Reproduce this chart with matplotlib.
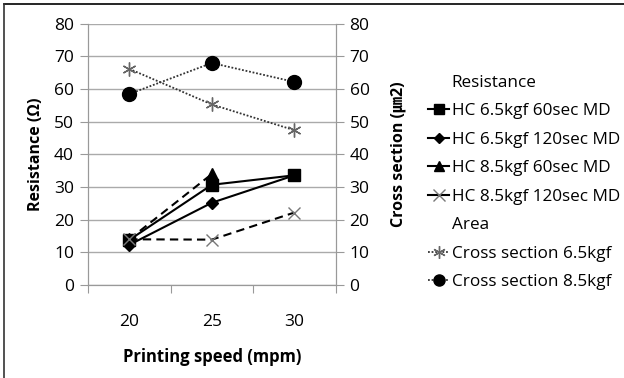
import matplotlib
matplotlib.use("Agg")
import matplotlib.pyplot as plt
from matplotlib.lines import Line2D

plt.rcParams['font.family'] = ['Open Sans', 'Noto Sans CJK KR', 'DejaVu Sans']

speeds = ['20', '25', '30']
hc65_60 = [13.8, 30.7, 33.6]
hc65_120 = [12.3, 25.2, 33.6]
hc85_60 = [14.0, 34.0, float('nan')]  # point at 30 hidden under the square in the original
hc85_120 = [14.0, 13.9, 22.2]
cs65 = [66.2, 55.3, 47.4]
cs85 = [58.5, 68.0, 62.2]

x = [1, 2, 3]

fig = plt.figure(figsize=(6.24, 3.78), dpi=100)
ax = fig.add_axes([0.141, 0.246, 0.397, 0.691])
ax2 = ax.twinx()

# resistance lines
ax.plot(x, hc65_60, color='black', lw=1.5, marker='s', ms=8, zorder=5)
ax.plot(x, hc65_120, color='black', lw=1.5, marker='D', ms=6, zorder=5)
ax.plot(x, hc85_60, color='black', lw=1.5, ls=(0, (4, 2.5)), marker='^', ms=8, zorder=5)
ax.plot(x, hc85_120, color='black', lw=1.5, ls=(0, (4, 2.5)), marker='x', ms=9,
        mec='#777777', mew=1, zorder=5)

# cross section lines
ax2.plot(x, cs65, color='#333333', lw=1.3, ls=(0, (1, 1)), marker=(6, 2, 0), ms=10,
         mec='#666666', mew=1)
ax2.plot(x, cs85, color='#333333', lw=1.3, ls=(0, (1, 1)), marker='o', ms=10,
         mfc='black', mec='black')

for a in (ax, ax2):
    a.set_ylim(0, 80)
    a.set_yticks(range(0, 81, 10))
    a.tick_params(axis='y', length=6, color='#999999', labelsize=12.5, pad=4)
    for s in a.spines.values():
        s.set_color('#999999')
    a.spines['top'].set_visible(False)

ax.set_xlim(0.5, 3.5)
ax.set_xticks([0.5, 1.5, 2.5, 3.5])
ax.set_xticklabels([])
ax.set_xticks(x, minor=True)
ax.set_xticklabels(speeds, minor=True)
ax.tick_params(axis='x', which='major', length=6, color='#999999')
ax.tick_params(axis='x', which='minor', length=0, labelsize=12.5, pad=21)
ax.yaxis.grid(True, color='#aaaaaa', lw=1)
ax.set_axisbelow(True)

ax.set_ylabel('Resistance (Ω)', fontsize=11.5, fontweight='bold', labelpad=7)
ax2.set_ylabel('Cross section (㎛2)', fontsize=11.5, fontweight='bold', labelpad=15,
               family=['Open Sans', 'Noto Sans CJK KR'])
ax.set_xlabel('Printing speed (mpm)', fontsize=12, fontweight='bold', labelpad=13)

# legend with section headers
blank = Line2D([], [], linestyle='none', marker='none')
handles = [
    blank,
    Line2D([], [], color='black', lw=1.5, marker='s', ms=7),
    Line2D([], [], color='black', lw=1.5, marker='D', ms=5),
    Line2D([], [], color='black', lw=1.5, marker='^', ms=7),
    Line2D([], [], color='black', lw=1.5, marker='x', ms=8, mec='#777777'),
    blank,
    Line2D([], [], color='#333333', lw=1.3, ls=(0, (1, 1)), marker=(6, 2, 0), ms=9, mec='#666666'),
    Line2D([], [], color='#333333', lw=1.3, ls=(0, (1, 1)), marker='o', ms=8, mfc='black', mec='black'),
]
labels = ['Resistance', 'HC 6.5kgf 60sec MD', 'HC 6.5kgf 120sec MD',
          'HC 8.5kgf 60sec MD', 'HC 8.5kgf 120sec MD', 'Area',
          'Cross section 6.5kgf', 'Cross section 8.5kgf']
fig.legend(handles, labels, loc='upper left', bbox_to_anchor=(0.672, 0.825),
           frameon=False, fontsize=12.3, handlelength=1.25, handletextpad=0.15,
           labelspacing=0.73, borderpad=0)

# border lines on top and left
fig.add_artist(Line2D([0.006, 1], [0.989, 0.989], color='black', lw=1.2))
fig.add_artist(Line2D([0.007, 0.007], [0, 0.989], color='#333333', lw=1.2))

fig.savefig('out.png', dpi=100)
